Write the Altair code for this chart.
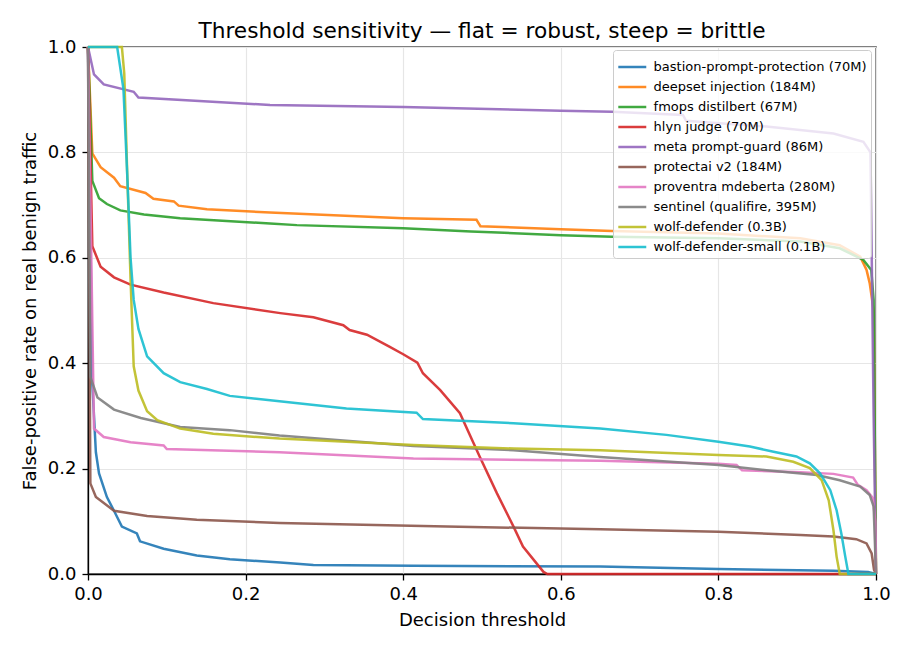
import altair as alt
import pandas as pd

models = [
    "bastion-prompt-protection (70M)",
    "deepset injection (184M)",
    "fmops distilbert (67M)",
    "hlyn judge (70M)",
    "meta prompt-guard (86M)",
    "protectai v2 (184M)",
    "proventra mdeberta (280M)",
    "sentinel (qualifire, 395M)",
    "wolf-defender (0.3B)",
    "wolf-defender-small (0.1B)",
]
colors = ["#1f77b4", "#ff7f0e", "#2ca02c", "#d62728", "#9467bd",
          "#8c564b", "#e377c2", "#7f7f7f", "#bcbd22", "#17becf"]

bastion_x = [0, 0.0055, 0.010, 0.014, 0.024, 0.033, 0.043, 0.062, 0.066, 0.096, 0.138, 0.180, 0.244, 0.286, 0.413, 0.650, 0.800, 0.946, 0.990, 1.0]
bastion_y = [1.0, 0.361, 0.231, 0.191, 0.146, 0.120, 0.090, 0.077, 0.062, 0.048, 0.035, 0.028, 0.022, 0.017, 0.0156, 0.014, 0.0095, 0.006, 0.004, 0.0]

deepset_x = [0, 0.0055, 0.016, 0.033, 0.041, 0.073, 0.083, 0.109, 0.115, 0.151, 0.231, 0.400, 0.493, 0.498, 0.600, 0.665, 0.800, 0.904, 0.954, 0.980, 0.988, 0.992, 0.997, 1.0]
deepset_y = [1.0, 0.798, 0.772, 0.752, 0.736, 0.723, 0.712, 0.707, 0.699, 0.692, 0.686, 0.675, 0.672, 0.660, 0.654, 0.651, 0.646, 0.637, 0.624, 0.602, 0.577, 0.552, 0.50, 0.0]

fmops_x = [0, 0.0055, 0.014, 0.024, 0.041, 0.071, 0.117, 0.231, 0.265, 0.400, 0.486, 0.520, 0.600, 0.665, 0.800, 0.904, 0.954, 0.984, 0.994, 0.997, 1.0]
fmops_y = [1.0, 0.746, 0.713, 0.702, 0.690, 0.682, 0.675, 0.665, 0.662, 0.656, 0.650, 0.648, 0.643, 0.640, 0.637, 0.631, 0.618, 0.596, 0.577, 0.52, 0.0]

hlyn_x = [0, 0.0055, 0.016, 0.033, 0.054, 0.096, 0.159, 0.244, 0.286, 0.324, 0.332, 0.354, 0.383, 0.400, 0.418, 0.425, 0.447, 0.472, 0.497, 0.519, 0.540, 0.552, 0.578, 0.583, 1.0]
hlyn_y = [1.0, 0.622, 0.583, 0.563, 0.549, 0.534, 0.514, 0.495, 0.487, 0.472, 0.463, 0.454, 0.431, 0.417, 0.401, 0.381, 0.349, 0.305, 0.223, 0.153, 0.090, 0.052, 0.004, 0.0, 0.0]

meta_x = [0, 0.0076, 0.020, 0.058, 0.064, 0.231, 0.400, 0.600, 0.665, 0.755, 0.759, 0.861, 0.946, 0.984, 0.993, 0.997, 1.0]
meta_y = [1.0, 0.948, 0.929, 0.915, 0.904, 0.890, 0.886, 0.879, 0.877, 0.871, 0.860, 0.849, 0.836, 0.820, 0.800, 0.30, 0.0]

protectai_x = [0, 0.003, 0.010, 0.033, 0.075, 0.138, 0.243, 0.455, 0.650, 0.800, 0.904, 0.946, 0.975, 0.988, 0.9945, 0.9975, 1.0]
protectai_y = [1.0, 0.172, 0.146, 0.120, 0.110, 0.103, 0.097, 0.090, 0.085, 0.080, 0.074, 0.071, 0.066, 0.058, 0.039, 0.008, 0.0]

proventra_x = [0, 0.0076, 0.020, 0.054, 0.096, 0.100, 0.243, 0.413, 0.650, 0.800, 0.823, 0.830, 0.904, 0.946, 0.971, 0.977, 0.988, 0.996, 0.999, 1.0]
proventra_y = [1.0, 0.276, 0.260, 0.250, 0.244, 0.237, 0.231, 0.219, 0.215, 0.209, 0.207, 0.197, 0.193, 0.190, 0.183, 0.169, 0.159, 0.144, 0.10, 0.0]

sentinel_x = [0, 0.003, 0.012, 0.033, 0.067, 0.117, 0.180, 0.243, 0.413, 0.540, 0.650, 0.800, 0.861, 0.925, 0.954, 0.980, 0.992, 0.997, 1.0]
sentinel_y = [1.0, 0.374, 0.335, 0.312, 0.296, 0.279, 0.273, 0.263, 0.243, 0.235, 0.222, 0.207, 0.197, 0.188, 0.178, 0.166, 0.150, 0.128, 0.0]

wolf_x = [0, 0.043, 0.046, 0.050, 0.054, 0.058, 0.064, 0.075, 0.088, 0.117, 0.159, 0.243, 0.413, 0.540, 0.650, 0.800, 0.861, 0.895, 0.916, 0.931, 0.940, 0.946, 0.950, 0.954, 1.0]
wolf_y = [1.0, 1.0, 0.950, 0.750, 0.560, 0.394, 0.348, 0.309, 0.292, 0.276, 0.266, 0.257, 0.245, 0.238, 0.235, 0.226, 0.223, 0.213, 0.201, 0.178, 0.140, 0.083, 0.033, 0.0, 0.0]

wolf_small_x = [0, 0.037, 0.045, 0.050, 0.054, 0.058, 0.064, 0.075, 0.096, 0.117, 0.151, 0.180, 0.243, 0.328, 0.417, 0.425, 0.540, 0.650, 0.734, 0.800, 0.840, 0.870, 0.899, 0.916, 0.929, 0.942, 0.950, 0.956, 0.961, 0.965, 1.0]
wolf_small_y = [1.0, 1.0, 0.920, 0.750, 0.600, 0.520, 0.465, 0.413, 0.381, 0.364, 0.351, 0.338, 0.328, 0.314, 0.306, 0.294, 0.286, 0.276, 0.264, 0.251, 0.242, 0.232, 0.223, 0.210, 0.191, 0.159, 0.121, 0.077, 0.033, 0.0, 0.0]

series = [
    (bastion_x, bastion_y), (deepset_x, deepset_y), (fmops_x, fmops_y),
    (hlyn_x, hlyn_y), (meta_x, meta_y), (protectai_x, protectai_y),
    (proventra_x, proventra_y), (sentinel_x, sentinel_y), (wolf_x, wolf_y),
    (wolf_small_x, wolf_small_y),
]

rows = []
for name, (xs, ys) in zip(models, series):
    for i, (xv, yv) in enumerate(zip(xs, ys)):
        rows.append({"model": name, "threshold": xv, "fpr": yv, "idx": i})
df = pd.DataFrame(rows)

ticks = [0.0, 0.2, 0.4, 0.6, 0.8, 1.0]
FONT = "DejaVu Sans"

chart = alt.Chart(df).mark_line(strokeWidth=2.5, opacity=0.9).encode(
    x=alt.X("threshold:Q",
            scale=alt.Scale(domain=[0, 1], nice=False, zero=False),
            axis=alt.Axis(values=ticks, format=".1f", title="Decision threshold",
                          labelPadding=5, titlePadding=8, labelFlush=False)),
    y=alt.Y("fpr:Q",
            scale=alt.Scale(domain=[0, 1], nice=False),
            axis=alt.Axis(values=ticks, format=".1f",
                          title="False-positive rate on real benign traffic",
                          labelPadding=6, titlePadding=8, labelFlush=False)),
    color=alt.Color("model:N",
                    scale=alt.Scale(domain=models, range=colors),
                    legend=alt.Legend(title=None, orient="none", legendX=525, legendY=3,
                                      symbolType="M-1,0H1.39", symbolSize=548,
                                      symbolStrokeWidth=2.5, rowPadding=0,
                                      labelFontSize=13, labelFont=FONT, labelColor="black",
                                      labelLimit=400, labelOffset=10.6, padding=4,
                                      fillColor="rgba(255,255,255,0.8)",
                                      strokeColor="#cccccc", cornerRadius=3)),
    order=alt.Order("idx:Q"),
).properties(
    width=788, height=527,
    title=alt.TitleParams("Threshold sensitivity \u2014 flat = robust, steep = brittle",
                          font=FONT, fontSize=21.7, fontWeight="normal", color="black",
                          anchor="middle", baseline="alphabetic", offset=10, frame="group",
                          dy=32),
    autosize=alt.AutoSizeParams(type="none"),
    padding={"left": 88, "top": 47, "right": 34, "bottom": 76},
).configure(
    background="white",
).configure_view(
    stroke="black", strokeWidth=1.3,
).configure_axis(
    labelFont=FONT, titleFont=FONT, labelFontSize=18, titleFontSize=18,
    titleFontWeight="normal", labelColor="black", titleColor="black",
    domainColor="black", domainWidth=1.3, tickColor="black", tickWidth=1.3,
    tickSize=6, gridColor="#e6e6e6", gridWidth=1.2,
)

chart.save("out.html", embed_options={"renderer": "svg", "actions": False})
